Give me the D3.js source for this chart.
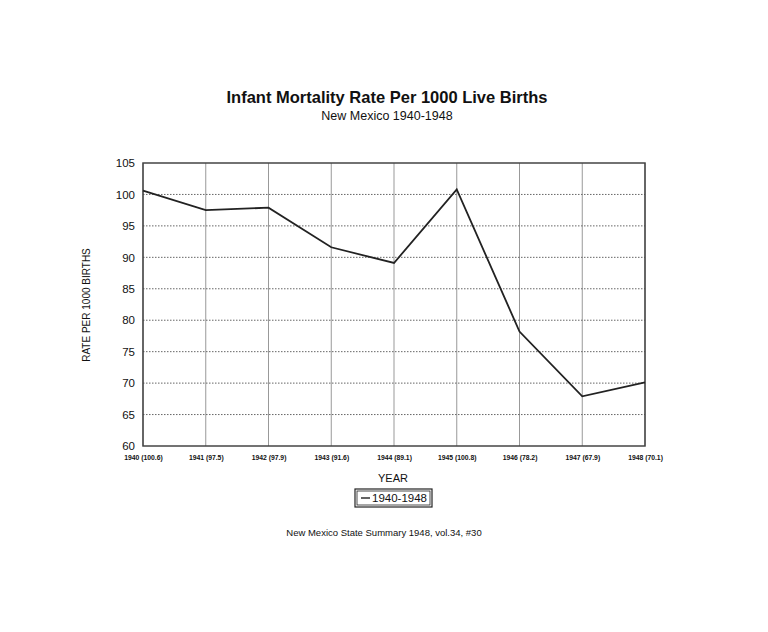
<!DOCTYPE html>
<html><head><meta charset="utf-8">
<script src="https://cdn.jsdelivr.net/npm/d3@7"></script>
<style>body{margin:0;background:#fff}svg{display:block}text{font-family:"Liberation Sans",Arial,sans-serif;fill:#111}</style>
</head><body><svg id="c" width="768" height="632"></svg>
<script>
const years = ["1940","1941","1942","1943","1944","1945","1946","1947","1948"];
const rates = [100.6, 97.5, 97.9, 91.6, 89.1, 100.8, 78.2, 67.9, 70.1];
const yTicks = [60,65,70,75,80,85,90,95,100,105];
const seriesName = "1940-1948";

const svg = d3.select("#c");
const m = {l:143, r:645, t:163, b:446};
const x = d3.scalePoint().domain(years).range([m.l, m.r]);
const y = d3.scaleLinear().domain([60,105]).range([m.b, m.t]);

svg.append("text").attr("x",387).attr("y",103).attr("text-anchor","middle")
  .style("font-size","16.5px").style("font-weight","bold").text("Infant Mortality Rate Per 1000 Live Births");
svg.append("text").attr("x",387).attr("y",120).attr("text-anchor","middle")
  .style("font-size","12.5px").text("New Mexico 1940-1948");

// grid
const g = svg.append("g");
g.selectAll(".vg").data(years).join("line")
  .attr("x1",d=>x(d)).attr("x2",d=>x(d)).attr("y1",m.t).attr("y2",m.b)
  .attr("stroke","#999").attr("stroke-width",1);
g.selectAll(".hg").data(yTicks.slice(1,-1)).join("line")
  .attr("x1",m.l).attr("x2",m.r).attr("y1",d=>y(d)).attr("y2",d=>y(d))
  .attr("stroke","#666").attr("stroke-width",1).attr("stroke-dasharray","1.5,1.5");
svg.append("rect").attr("x",m.l).attr("y",m.t).attr("width",m.r-m.l).attr("height",m.b-m.t)
  .attr("fill","none").attr("stroke","#444").attr("stroke-width",1.5);

// y axis
const ya = svg.append("g").attr("transform",`translate(${m.l},0)`)
  .call(d3.axisLeft(y).tickValues(yTicks).tickSize(0).tickPadding(8));
ya.select(".domain").remove();
ya.selectAll("text").style("font-size","11.5px").style("font-family","'Liberation Sans',Arial,sans-serif").attr("fill","#111");

// x axis
const xa = svg.append("g").attr("transform",`translate(0,${m.b})`)
  .call(d3.axisBottom(x).tickSize(0).tickPadding(9).tickFormat((d,i)=>`${d} (${rates[i].toFixed(1)})`));
xa.select(".domain").remove();
xa.selectAll("text").style("font-size","6.8px").style("font-weight","bold").style("font-family","'Liberation Sans',Arial,sans-serif").attr("fill","#222");

svg.append("text").attr("transform","translate(90,305) rotate(-90)").attr("text-anchor","middle")
  .style("font-size","10px").text("RATE PER 1000 BIRTHS");
svg.append("text").attr("x",393).attr("y",482).attr("text-anchor","middle")
  .style("font-size","11px").text("YEAR");

// line
svg.append("path").datum(rates)
  .attr("d", d3.line().x((d,i)=>x(years[i])).y(d=>y(d)))
  .attr("fill","none").attr("stroke","#222").attr("stroke-width",1.8);

// legend
const lg = svg.append("g");
lg.append("rect").attr("x",355).attr("y",489).attr("width",77).attr("height",18)
  .attr("fill","none").attr("stroke","#222").attr("stroke-width",1.2);
lg.append("rect").attr("x",357).attr("y",491).attr("width",73).attr("height",14)
  .attr("fill","none").attr("stroke","#222").attr("stroke-width",0.8);
lg.append("line").attr("x1",361).attr("x2",370).attr("y1",498).attr("y2",498).attr("stroke","#222").attr("stroke-width",1.4);
lg.append("text").attr("x",372).attr("y",502).style("font-size","11.5px").text(seriesName);

svg.append("text").attr("x",384).attr("y",536).attr("text-anchor","middle")
  .style("font-size","9.5px").text("New Mexico State Summary 1948, vol.34, #30");
</script></body></html>
